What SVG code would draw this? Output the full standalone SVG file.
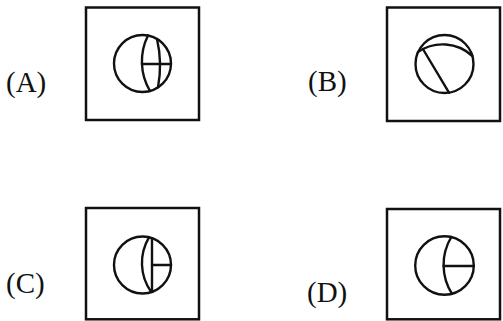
<svg xmlns="http://www.w3.org/2000/svg" width="503" height="321" viewBox="0 0 503 321">
<style>
.box{fill:none;stroke:#111;stroke-width:2.5}
.fig{fill:none;stroke:#111;stroke-width:2.4;stroke-linecap:round}
.lbl{font-family:"Liberation Serif","Times New Roman",serif;font-size:29px;fill:#111}
</style>
<rect width="503" height="321" fill="#fff"/>
<g id="optA">
<text class="lbl" x="6" y="91.5">(A)</text>
<rect class="box" x="86" y="7.5" width="113" height="112.5"/>
<circle class="fig" cx="142.5" cy="63.5" r="28.5"/>
<path class="fig" d="M148,35.5 A58,58 0 0 0 150,91"/>
<path class="fig" d="M157,39 A118,118 0 0 1 158,87.4"/>
<line class="fig" x1="142" y1="64" x2="171" y2="64"/>
</g>
<g id="optB">
<text class="lbl" x="308" y="91">(B)</text>
<rect class="box" x="387" y="7.5" width="113" height="113.5"/>
<circle class="fig" cx="444.5" cy="64" r="29"/>
<path class="fig" d="M418,52 A44,44 0 0 1 472.4,56"/>
<line class="fig" x1="423.5" y1="50" x2="449" y2="92.7"/>
</g>
<g id="optC">
<text class="lbl" x="6" y="292.5">(C)</text>
<rect class="box" x="86" y="208" width="113" height="111.3"/>
<circle class="fig" cx="142.5" cy="265" r="28.5"/>
<path class="fig" d="M149,237.3 A50,50 0 0 0 151,291.6"/>
<line class="fig" x1="152" y1="238.1" x2="152" y2="291.9"/>
<line class="fig" x1="152" y1="265" x2="171" y2="265"/>
</g>
<g id="optD">
<text class="lbl" x="307" y="301.5">(D)</text>
<rect class="box" x="387" y="209" width="113" height="110.3"/>
<circle class="fig" cx="444.5" cy="265.5" r="29.3"/>
<path class="fig" d="M451.3,237 A54,54 0 0 0 452,293.8"/>
<line class="fig" x1="443.7" y1="266" x2="473.8" y2="266"/>
</g>
<g id="connectors"></g>
</svg>
